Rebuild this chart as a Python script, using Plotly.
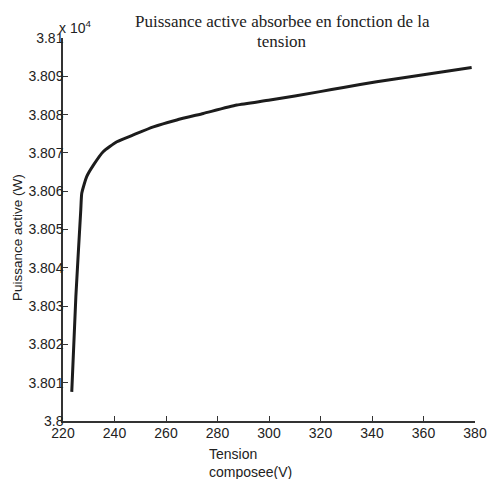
import plotly.graph_objects as go

# Line voltage (V) and absorbed active power (W)
tension = [223.4, 225.0, 226.9, 227.3, 229.2, 231.8, 235.6, 240.9, 247.3, 255.1,
           264.2, 274.5, 287.5, 300.4, 319.8, 328.9, 341.8, 354.8, 367.7, 378.7]
puissance = [38007.6, 38032.6, 38055.1, 38059.5, 38063.8, 38066.8, 38070.3, 38072.9,
             38074.7, 38076.8, 38078.6, 38080.3, 38082.5, 38083.8, 38086.0, 38087.1,
             38088.6, 38089.9, 38091.2, 38092.3]

x_ticks = [220, 240, 260, 280, 300, 320, 340, 360, 380]
y_ticks = [3.8, 3.801, 3.802, 3.803, 3.804, 3.805, 3.806, 3.807, 3.808, 3.809, 3.81]
y_tick_labels = ["3.8", "3.801", "3.802", "3.803", "3.804", "3.805",
                 "3.806", "3.807", "3.808", "3.809", "3.81"]
scale = 1e4

sans = "Liberation Sans, Arial, sans-serif"
serif = "Liberation Serif, Times New Roman, serif"

fig = go.Figure()
fig.add_trace(go.Scatter(
    x=tension,
    y=[p / scale for p in puissance],
    mode="lines",
    line=dict(color="#1c1c1c", width=3, shape="spline", smoothing=0.5),
    showlegend=False,
))

axis_common = dict(
    showgrid=False, zeroline=False, showline=True, linecolor="#333",
    linewidth=1.5, ticks="inside", ticklen=5, tickwidth=1.2, tickcolor="#333",
    tickfont=dict(family=sans, size=14, color="#222"), mirror=False,
    automargin=False,
)

fig.update_layout(
    width=490, height=479,
    margin=dict(l=63, r=15, t=38, b=58),
    paper_bgcolor="white", plot_bgcolor="white",
    xaxis=dict(range=[220, 380], tickvals=x_ticks, ticklabelstandoff=-2,
               **axis_common),
    yaxis=dict(range=[3.8, 3.81], tickvals=y_ticks, ticktext=y_tick_labels,
               ticklabelstandoff=-5, **axis_common),
)

# two-line title, each line placed on its own
title_lines = ["Puissance active absorbee en fonction de la", "tension"]
for i, line_text in enumerate(title_lines):
    fig.add_annotation(
        text=line_text,
        xref="paper", yref="paper", x=0.5316, y=1.042 - i * 0.051,
        xanchor="center", yanchor="middle", showarrow=False,
        font=dict(family=serif, size=17, color="#222"),
    )
fig.add_annotation(
    text="x 10<sup>4</sup>",
    xref="paper", yref="paper", x=-0.015, y=1.0,
    xanchor="left", yanchor="bottom", showarrow=False,
    font=dict(family=sans, size=14, color="#222"),
)
fig.add_annotation(
    text="Puissance active (W)",
    xref="paper", yref="paper", x=-0.112, y=0.48,
    xanchor="center", yanchor="middle", textangle=-90, showarrow=False,
    font=dict(family=sans, size=13.5, color="#222"),
)
x_title_lines = ["Tension", "composee(V)"]
for i, line_text in enumerate(x_title_lines):
    fig.add_annotation(
        text=line_text,
        xref="paper", yref="paper", x=0.3495, y=-0.086 - i * 0.047,
        xanchor="left", yanchor="middle", showarrow=False,
        font=dict(family=sans, size=14, color="#222"),
    )

fig.write_html("out.html")
